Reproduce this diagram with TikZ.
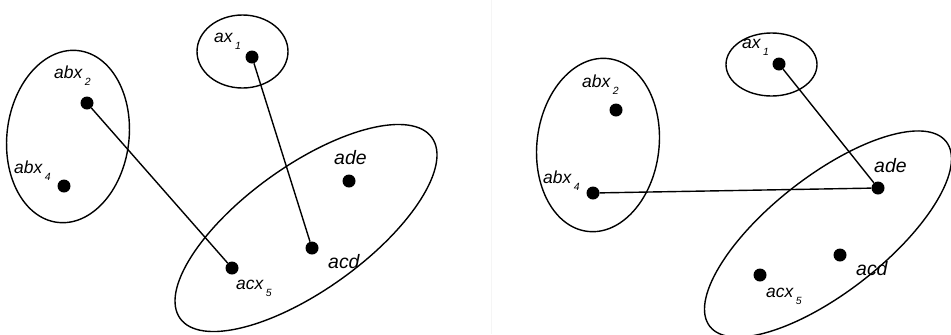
\documentclass[tikz,border=0pt]{standalone}
\usepackage{fontspec}
\setmainfont{Liberation Sans}
\newcommand\lsub[1]{\kern2.5bp\raisebox{-7bp}{\fontsize{10.5}{10.5}\selectfont #1}}
\begin{document}
\begin{tikzpicture}[x=1bp,y=1bp,
  ring/.style={line width=1.4bp},
  link/.style={line width=1.4bp},
  dot/.style={circle,fill=black,inner sep=0pt,minimum size=13bp},
  lbl/.style={anchor=base west,inner sep=0pt,font=\itshape\fontsize{17.5}{17.5}\selectfont},
  lblb/.style={anchor=base west,inner sep=0pt,font=\itshape\fontsize{19.5}{19.5}\selectfont}]
\useasboundingbox[fill=white] (0,0) rectangle (951,-334);
\draw[color=black!4,line width=1bp] (491,0) -- (491,-334);
% ---------- left panel ----------
\draw[ring] (242.5,-51.5) ellipse [x radius=45.5, y radius=36.5];
\draw[ring,rotate around={-7:(68,-136.5)}] (68,-136.5) ellipse [x radius=61, y radius=86.5];
\draw[ring,rotate around={35.7:(306,-228)}] (306,-228) ellipse [x radius=155, y radius=62];
\node[dot] (Lax1) at (252,-57) {};
\node[dot] (Labx2) at (87,-103) {};
\node[dot] (Labx4) at (64,-186) {};
\node[dot] (Lade) at (349,-181) {};
\node[dot] (Lacd) at (312,-248) {};
\node[dot] (Lacx5) at (232,-268) {};
\node[lbl] (tLax1) at (214,-42) {ax\lsub{1}};
\node[lbl] (tLabx2) at (54,-78) {abx\lsub{2}};
\node[lbl] (tLabx4) at (14,-173) {abx\lsub{4}};
\node[lblb] (tLade) at (334,-164) {ade};
\node[lblb] (tLacd) at (328,-268) {acd};
\node[lbl] (tLacx5) at (236,-289) {acx\lsub{5}};
\draw[link] (Labx2) -- (Lacx5);
\draw[link] (Lax1) -- (Lacd);
% ---------- right panel ----------
\draw[ring] (771.5,-64.5) ellipse [x radius=45.5, y radius=31.5];
\draw[ring,rotate around={-7:(598,-145)}] (598,-145) ellipse [x radius=61, y radius=87];
\draw[ring,rotate around={38:(828,-234)}] (828,-234) ellipse [x radius=150, y radius=58];
\node[dot] (Rax1) at (779,-64) {};
\node[dot] (Rabx2) at (616,-110) {};
\node[dot] (Rabx4) at (593,-193) {};
\node[dot] (Rade) at (878,-188) {};
\node[dot] (Racd) at (840,-255) {};
\node[dot] (Racx5) at (760,-275) {};
\node[lbl] (tRax1) at (742,-48) {ax\lsub{1}};
\node[lbl] (tRabx2) at (582,-87) {abx\lsub{2}};
\node[lbl] (tRabx4) at (543,-183) {abx\lsub{4}};
\node[lblb] (tRade) at (874,-172) {ade};
\node[lblb] (tRacd) at (856,-275) {acd};
\node[lbl] (tRacx5) at (766,-297) {acx\lsub{5}};
\draw[link] (Rax1) -- (Rade);
\draw[link] (Rabx4) -- (Rade);
\end{tikzpicture}
\end{document}
